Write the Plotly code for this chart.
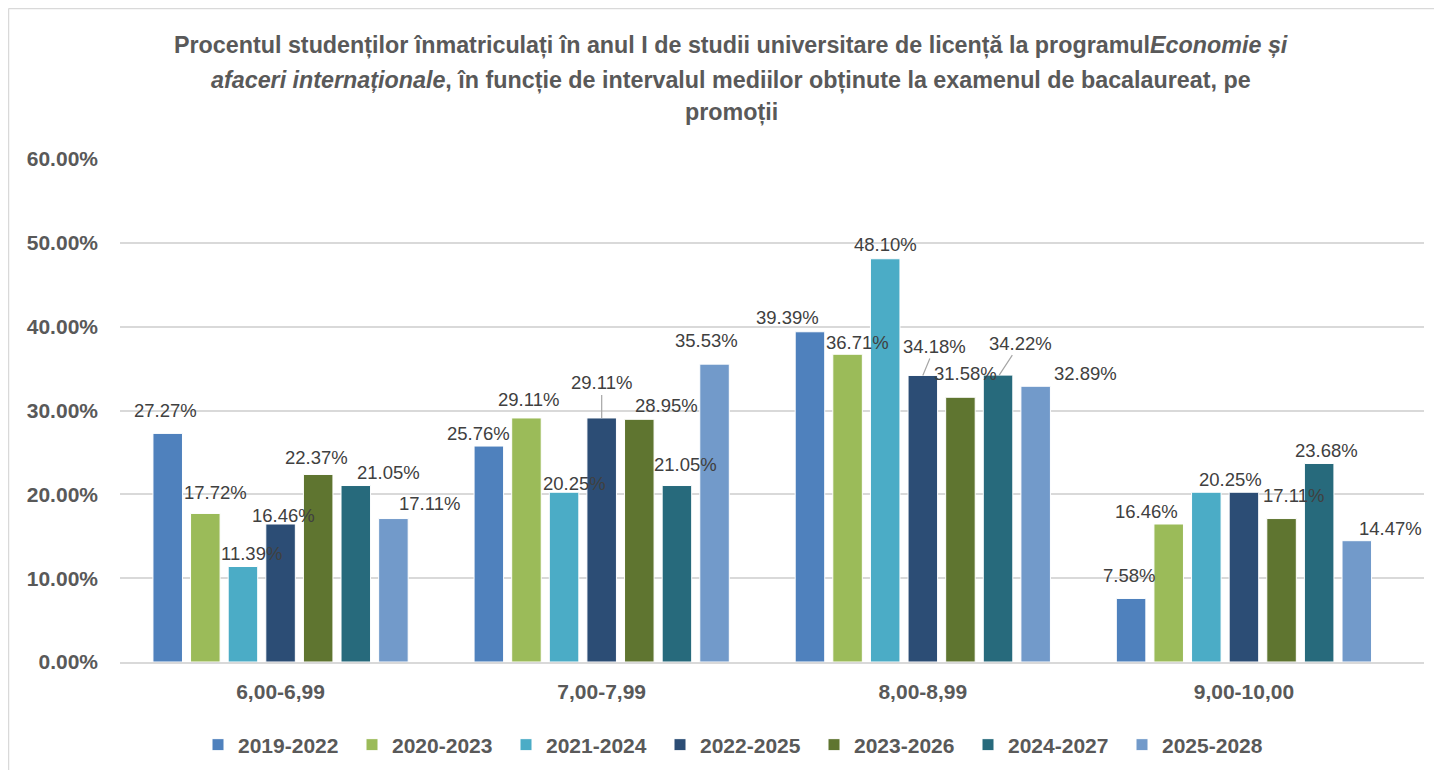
import plotly.graph_objects as go

categories = ["6,00-6,99", "7,00-7,99", "8,00-8,99", "9,00-10,00"]
series_names = ["2019-2022", "2020-2023", "2021-2024", "2022-2025", "2023-2026", "2024-2027", "2025-2028"]

v_2019_2022 = [27.27, 25.76, 39.39, 7.58]
v_2020_2023 = [17.72, 29.11, 36.71, 16.46]
v_2021_2024 = [11.39, 20.25, 48.10, 20.25]
v_2022_2025 = [16.46, 29.11, 34.18, 20.25]
v_2023_2026 = [22.37, 28.95, 31.58, 17.11]
v_2024_2027 = [21.05, 21.05, 34.22, 23.68]
v_2025_2028 = [17.11, 35.53, 32.89, 14.47]
series_values = [v_2019_2022, v_2020_2023, v_2021_2024, v_2022_2025, v_2023_2026, v_2024_2027, v_2025_2028]

y_ticks = [0, 10, 20, 30, 40, 50, 60]

colors = ["#4F81BD", "#9BBB59", "#4BACC6", "#2C4D75", "#5F7530", "#276A7C", "#729ACA"]

# label nudges (pixels) relative to bar centre / bar top: [series][category]
label_dx = [
    [0, -9, -21, 0],
    [11, 3, 11, -21],
    [9, 11, 1, 25],
    [3, 0, 12, -14],
    [-2, 27, 5, 11],
    [32, 7, 21, 6],
    [34, -10, 48, 32],
]
label_dy = [
    [23, 13, 14, 23],
    [21, 18, 12, 13],
    [13, 9, 14, 13],
    [9, 35, 29, 13],
    [17, 14, 24, 23],
    [13, 21, 32, 13],
    [15, 24, 13, 12],
]
leader = {(3, 1), (3, 2), (5, 2)}
hidden = {(3, 3)}  # label hidden behind its neighbour in the original

FONT = "Liberation Sans, Arial, sans-serif"
# page has an 8px body margin; figure occupies page px 8.. onwards
OFF = 8
W, H = 1426, 762
L, T = 120 - OFF, 159 - OFF
plot_w, plot_h = 1304, 503
R = W - L - plot_w
B = H - T - plot_h
bargap = 0.18
bargroupgap = 0.215
n = len(series_names)
pitch = plot_w / len(categories) * (1 - bargap) / n


def px_to_paper_x(px):
    return (px - OFF - L) / plot_w


def px_to_paper_y(py):
    return (T + plot_h - (py - OFF)) / plot_h


fig = go.Figure()
for name, vals, col in zip(series_names, series_values, colors):
    fig.add_trace(go.Bar(
        name=name, x=categories, y=[v / 100 for v in vals],
        marker=dict(color=col, line=dict(color="white", width=1)),
        hoverinfo="x+y",
    ))

label_font = dict(family=FONT, size=18.5, color="#404040")
annotations = []
for i, vals in enumerate(series_values):
    for j, v in enumerate(vals):
        if (i, j) in hidden:
            continue
        xs = (i - (n - 1) / 2) * pitch
        txt = f"{v:.2f}%"
        if (i, j) in leader:
            annotations.append(dict(
                x=categories[j], y=v / 100, xref="x", yref="y", xshift=xs,
                text=txt, showarrow=True, arrowhead=0, arrowwidth=1.2,
                arrowcolor="#A6A6A6", ax=label_dx[i][j], ay=-label_dy[i][j],
                axref="pixel", ayref="pixel", standoff=0, font=label_font,
            ))
        else:
            annotations.append(dict(
                x=categories[j], y=v / 100, xref="x", yref="y",
                xshift=xs + label_dx[i][j], yshift=label_dy[i][j],
                text=txt, showarrow=False, yanchor="middle", xanchor="center",
                font=label_font,
            ))

title_lines = [
    "<b>Procentul studenților înmatriculați în anul I de studii universitare de licență la programul<i>Economie și</i></b>",
    "<b><i>afaceri internaționale</i>, în funcție de intervalul mediilor obținute la examenul de bacalaureat, pe</b>",
    "<b>promoții</b>",
]
title_y = [46, 80, 113]
for line, py in zip(title_lines, title_y):
    annotations.append(dict(
        xref="paper", yref="paper", x=px_to_paper_x(731), y=px_to_paper_y(py),
        xanchor="center", yanchor="middle", showarrow=False, text=line,
        font=dict(family=FONT, size=23.3, color="#595959"),
    ))

shapes = [
    dict(type="line", xref="paper", yref="paper",
         x0=px_to_paper_x(8.5), x1=px_to_paper_x(OFF + W),
         y0=px_to_paper_y(8.5), y1=px_to_paper_y(8.5),
         line=dict(color="#D9D9D9", width=1.5)),
    dict(type="line", xref="paper", yref="paper",
         x0=px_to_paper_x(8.5), x1=px_to_paper_x(8.5),
         y0=px_to_paper_y(8.5), y1=px_to_paper_y(OFF + H),
         line=dict(color="#D9D9D9", width=1.5)),
]

bold21 = dict(family=FONT, size=21, color="#595959", weight=700)

fig.update_layout(
    width=W, height=H,
    margin=dict(l=L, r=R, t=T, b=B, autoexpand=False),
    paper_bgcolor="white", plot_bgcolor="white",
    barmode="group", bargap=bargap, bargroupgap=bargroupgap,
    showlegend=True,
    legend=dict(
        orientation="h", xref="paper", yref="paper",
        x=px_to_paper_x(737), xanchor="center",
        y=px_to_paper_y(745), yanchor="middle",
        font=bold21,
        entrywidth=109, entrywidthmode="pixels",
        itemwidth=30, traceorder="normal",
    ),
    annotations=annotations,
    shapes=shapes,
    xaxis=dict(
        categoryorder="array", categoryarray=categories,
        showgrid=False, zeroline=False, showline=True, linecolor="#D9D9D9", linewidth=1.5,
        ticks="", ticklabelstandoff=10,
        tickfont=bold21,
    ),
    yaxis=dict(
        range=[y_ticks[0] / 100, y_ticks[-1] / 100],
        tickvals=[t / 100 for t in y_ticks], tickformat=".2%",
        showgrid=True, gridcolor="#D9D9D9", gridwidth=1.5, zeroline=False,
        showline=False, ticks="", ticklabelstandoff=21,
        tickfont=bold21,
    ),
)

fig.write_html("out.html")
